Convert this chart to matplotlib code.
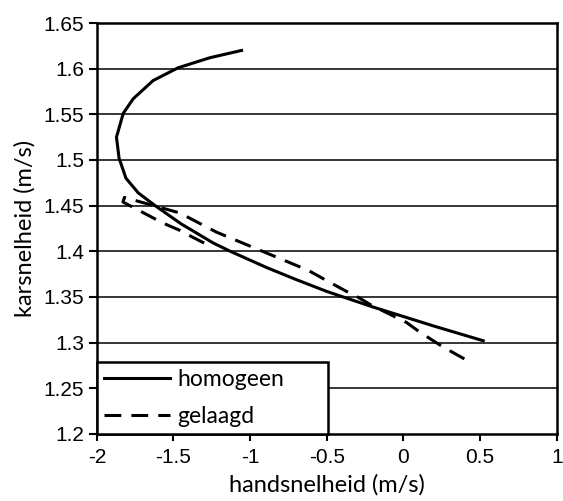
import numpy as np
import matplotlib.pyplot as plt

# homogeen (solid)
hom_x = [0.52, 0.20, -0.20, -0.50, -0.70, -0.89, -1.13, -1.24, -1.45, -1.62, -1.73, -1.81, -1.855, -1.872, -1.828, -1.763, -1.633, -1.47, -1.263, -1.056]
hom_y = [1.302, 1.318, 1.339, 1.356, 1.369, 1.382, 1.400, 1.409, 1.430, 1.450, 1.464, 1.480, 1.502, 1.525, 1.551, 1.567, 1.587, 1.601, 1.612, 1.620]

# gelaagd (dashed)
gel_x = [-1.30, -1.37, -1.46, -1.57, -1.83, -1.82, -1.46, -1.22, -0.92, -0.62, -0.47, -0.36, -0.30, -0.21, 0.02, 0.11, 0.26, 0.43]
gel_y = [1.409, 1.415, 1.423, 1.431, 1.454, 1.459, 1.442, 1.421, 1.400, 1.379, 1.365, 1.355, 1.350, 1.341, 1.322, 1.311, 1.295, 1.279]

xticks = [-2, -1.5, -1, -0.5, 0, 0.5, 1]
yticks = [1.2, 1.25, 1.3, 1.35, 1.4, 1.45, 1.5, 1.55, 1.6, 1.65]

fig = plt.figure(figsize=(5.63, 5.01), dpi=100)
ax = fig.add_axes([0.172, 0.134, 0.817, 0.82])

for yv in yticks[1:]:
    ax.axhline(yv, color='black', lw=1.1, zorder=1)

ax.plot(hom_x, hom_y, color='black', lw=2.2, label='homogeen', zorder=3)
ax.plot(gel_x, gel_y, color='black', lw=2.2, dashes=(5.5, 3.3), label='gelaagd', zorder=3)

ax.set_xlim(-2, 1)
ax.set_ylim(1.2, 1.65)
ax.set_xticks(xticks)
ax.set_yticks(yticks)
ax.set_xticklabels(['-2', '-1.5', '-1', '-0.5', '0', '0.5', '1'])
ax.set_yticklabels(['1.2', '1.25', '1.3', '1.35', '1.4', '1.45', '1.5', '1.55', '1.6', '1.65'])
for lab in ax.get_xticklabels() + ax.get_yticklabels():
    lab.set_fontfamily('Liberation Sans')
    lab.set_fontsize(15)
ax.tick_params(axis='x', direction='out', length=5, width=1.5, color='black', pad=5)
ax.tick_params(axis='y', direction='out', length=6, width=1.5, color='black', pad=3)
for s in ax.spines.values():
    s.set_linewidth(1.8)
    s.set_color('black')

ax.set_xlabel('handsnelheid (m/s)', fontsize=17, family='Lato', labelpad=5)
ax.set_ylabel('karsnelheid (m/s)', fontsize=17, family='Lato', labelpad=6)

leg = ax.legend(loc='lower left', bbox_to_anchor=(0, 0, 0.502, 0.15), mode='expand',
                borderaxespad=0, fancybox=False, framealpha=1, edgecolor='black',
                prop={'family': 'Lato', 'size': 16.5}, handlelength=2.9,
                handletextpad=0.3, borderpad=0.3, labelspacing=0.7)
leg.get_frame().set_linewidth(1.8)
leg.set_zorder(5)

fig.savefig('out.png', dpi=100)
